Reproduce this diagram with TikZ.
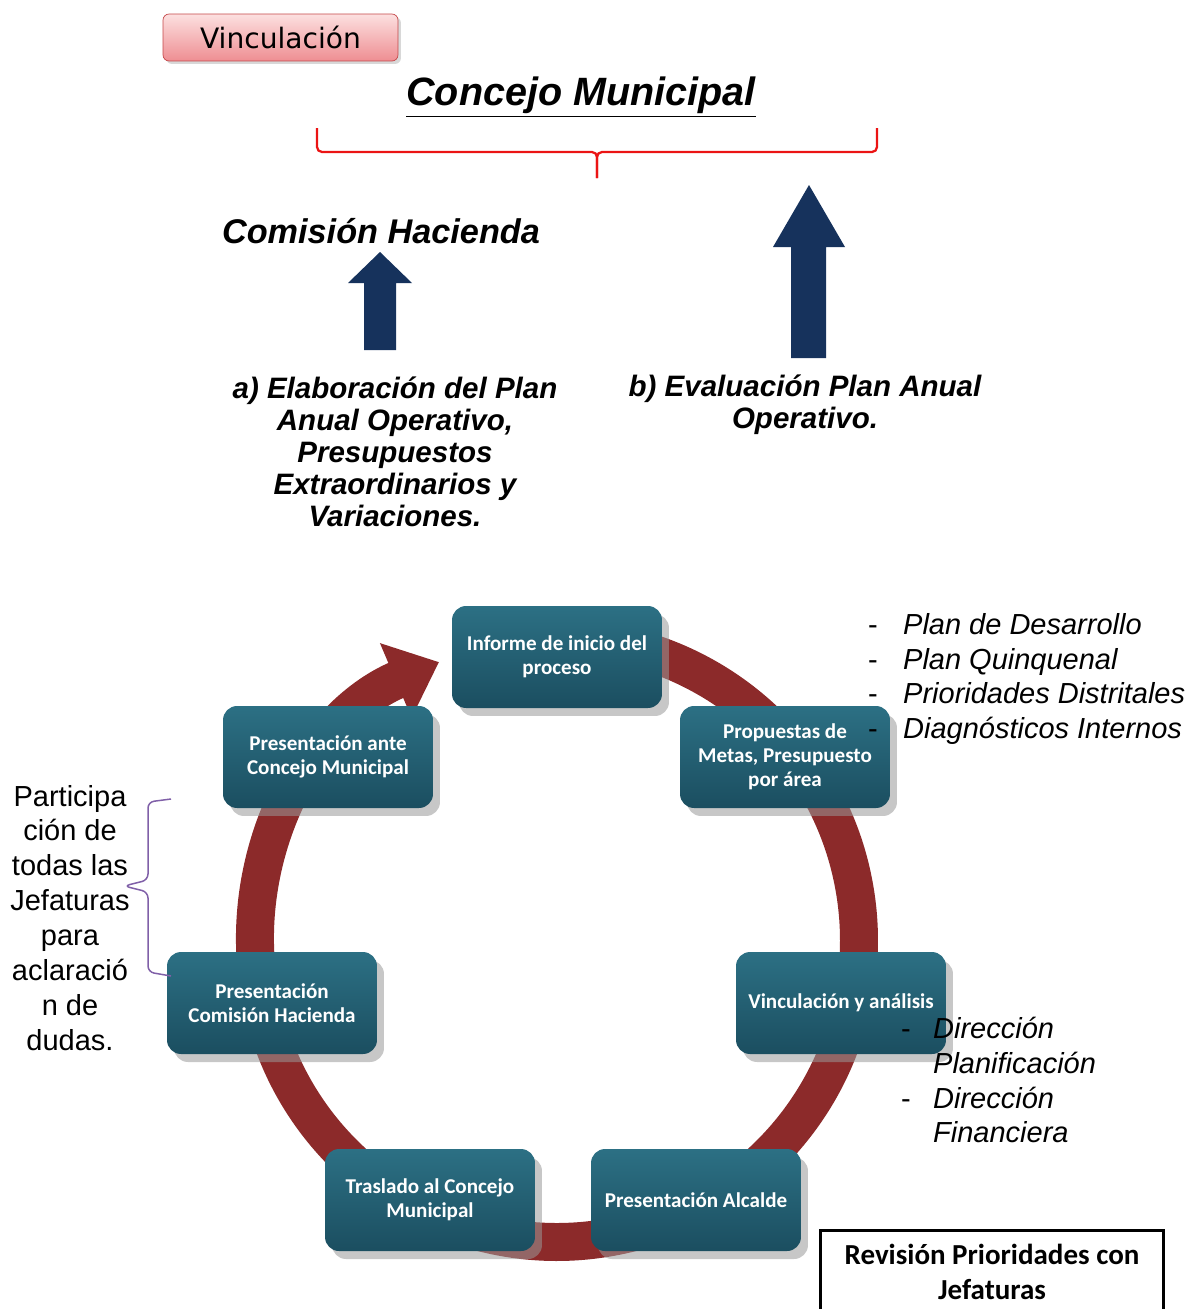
\documentclass[tikz,border=0pt]{standalone}
\usepackage{fontspec}
\setmainfont{Liberation Sans}
\newfontfamily\boxfont{Carlito}
\newfontfamily\tabfont{DejaVu Sans}
\usetikzlibrary{shapes,arrows.meta,shadows}

\definecolor{tealtop}{RGB}{44,112,132}
\definecolor{tealbot}{RGB}{27,78,96}
\definecolor{ringred}{RGB}{140,42,42}
\definecolor{arrowblue}{RGB}{22,50,92}
\definecolor{pinktop}{RGB}{252,224,224}
\definecolor{pinkbot}{RGB}{238,142,146}
\definecolor{pinkline}{RGB}{196,70,72}
\definecolor{bracered}{RGB}{235,20,20}
\definecolor{bracepurple}{RGB}{128,96,168}

\tikzset{
  stage/.style={shape=rectangle, rounded corners=0.28cm, top color=tealtop, bottom color=tealbot,
    text=white, minimum width=4.2cm, minimum height=2.04cm, align=center,
    font=\boxfont\bfseries\fontsize{12}{13.6}\selectfont,
    drop shadow={shadow xshift=0.14cm, shadow yshift=-0.16cm, fill=black!40, opacity=0.55}},
  heading/.style={font=\bfseries\itshape\fontsize{19.5}{22}\selectfont},
  note/.style={align=center, font=\bfseries\itshape\fontsize{16.8}{18.2}\selectfont},
  list/.style={align=left, font=\itshape\fontsize{16.5}{19.9}\selectfont},
  bigarrow/.style={fill=arrowblue},
  ring/.style={draw=ringred, line width=0.76cm, -{Triangle[length=0.94cm, width=1.56cm]}}
}
\newcommand{\dashitem}[1][0.7cm]{\makebox[#1][l]{\upshape -}}

\begin{document}
\begin{tikzpicture}[x=0.02cm, y=-0.02cm]
\useasboundingbox (0,0) rectangle (1199,1309);

\node (vinc) at (280.5,37.5) [shape=rectangle, rounded corners=0.12cm, top color=pinktop, bottom color=pinkbot,
  draw=pinkline, minimum width=4.7cm, minimum height=0.94cm, font=\tabfont\fontsize{16}{18}\selectfont,
  drop shadow={shadow xshift=0.06cm, shadow yshift=-0.06cm, fill=black!30, opacity=0.5}] {Vinculación};
\node (concejo) at (581,97) [heading, font=\bfseries\itshape\fontsize{22.5}{25}\selectfont] {\underline{Concejo Municipal}};
\draw [bracered, line width=0.045cm, rounded corners=0.1cm] (317,128) -- (317,152) -- (597,152) -- (597,178);
\draw [bracered, line width=0.045cm, rounded corners=0.1cm] (877,128) -- (877,152) -- (597,152) -- (597,178);

\node (comision) at (381,231) [heading] {Comisión Hacienda};
\fill [bigarrow] (364,350) -- (364,283) -- (348,283) -- (380,252) -- (412,283) -- (396,283) -- (396,350) -- cycle;
\fill [bigarrow] (791,358) -- (791,247) -- (773,247) -- (809,185) -- (845,247) -- (826,247) -- (826,358) -- cycle;

\node (elab) at (395,452) [note] {a) Elaboración del Plan\\Anual Operativo,\\Presupuestos\\Extraordinarios y\\Variaciones.};
\node (eval) at (805,405) [note] {b) Evaluación Plan Anual\\Operativo.};

\coordinate (ctr) at (557,940);
\draw [ring] (ctr) ++(100:6.04cm) arc [start angle=100, end angle=-247, radius=6.04cm];

\node (informe) at (557,657) [stage] {Informe de inicio del\\proceso};
\node (propuestas) at (785,757) [stage] {Propuestas de\\Metas, Presupuesto\\por área};
\node (analisis) at (841,1003) [stage] {Vinculación y análisis};
\node (alcalde) at (696,1200) [stage] {Presentación Alcalde};
\node (traslado) at (430,1200) [stage] {Traslado al Concejo\\Municipal};
\node (hacienda) at (272,1003) [stage] {Presentación\\Comisión Hacienda};
\node (ante) at (328,757) [stage] {Presentación ante\\Concejo Municipal};

\node (fuentes) at (862,679) [list, anchor=west] {\dashitem Plan de Desarrollo\\\dashitem Plan Quinquenal\\\dashitem Prioridades Distritales\\\dashitem Diagnósticos Internos};
\node (direcciones) at (895,1080) [list, anchor=west] {\dashitem[0.64cm]Dirección\\\hspace*{0.64cm}Planificación\\\dashitem[0.64cm]Dirección\\\hspace*{0.64cm}Financiera};

\node (part) at (70,918) [align=center, font=\fontsize{16.5}{19.9}\selectfont] {Participa\\ción de\\todas las\\Jefaturas\\para\\aclaració\\n de\\dudas.};
\draw [bracepurple, line width=0.03cm, rounded corners=0.12cm] (171,799) -- (148,802) -- (148,880) -- (124,886) -- (148,892) -- (148,972) -- (171,976);

\node (revision) at (992,1272) [shape=rectangle, draw, line width=0.06cm, minimum width=6.88cm, minimum height=1.68cm,
  align=center, font=\boxfont\bfseries\fontsize{16.5}{20}\selectfont] {Revisión Prioridades con\\Jefaturas};
\end{tikzpicture}
\end{document}
